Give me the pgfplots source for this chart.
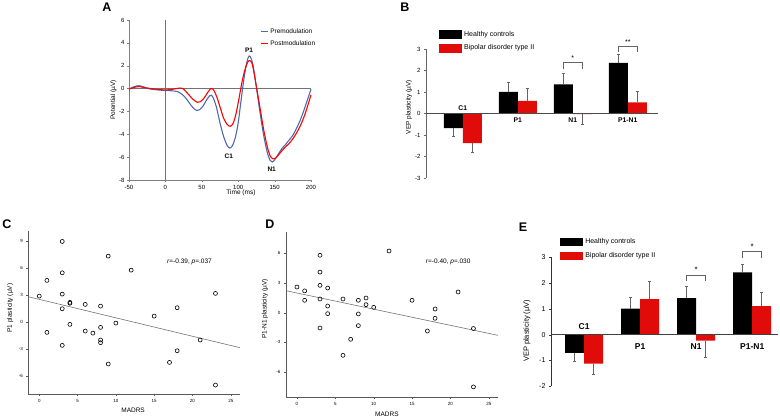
\documentclass[border=0pt]{standalone}
\usepackage{fontspec}
\setmainfont{Liberation Sans}
\usepackage{pgfplots}
\pgfplotsset{compat=1.18}
\definecolor{preblue}{RGB}{76,107,175}
\definecolor{barred}{RGB}{225,12,10}
\definecolor{errgray}{RGB}{100,100,100}
\begin{document}
\begin{tikzpicture}[x=1pt,y=1pt]
\useasboundingbox (0,0) rectangle (780,417);
\pgfplotsset{every axis/.append style={/pgf/number format/assume math mode=true, scale only axis, enlargelimits=false, tick align=outside, major tick length=2pt, clip=false}}
% ---------------- Panel A ----------------
\node[font=\bfseries\fontsize{12.5}{13}\selectfont] at (107,410) {A};
\begin{axis}[at={(129pt,237pt)}, anchor=south west, width=182pt, height=160pt,
 xmin=-50,xmax=200,ymin=-8,ymax=6,
 axis x line*=bottom, axis y line*=left, axis line style={black!50},
 xtick={-50,0,50,100,150,200}, ytick={-8,-6,-4,-2,0,2,4,6},
 tick style={black!50},
 tick label style={font=\fontsize{6}{7}\selectfont},
 yticklabel style={xshift=1pt},
 xlabel={Time (ms)}, ylabel={Potential (µV)},
 label style={font=\fontsize{6.5}{7}\selectfont},
 xlabel style={at={(axis description cs:0.615,-0.081)},anchor=center},
 ylabel style={at={(axis description cs:-0.085,0.5)},anchor=center},
 legend style={at={(axis description cs:0.72,0.96)},anchor=north west,draw=none,fill=none,font=\fontsize{6.5}{7}\selectfont,inner sep=0pt,row sep=1.5pt,
   /tikz/every even column/.append style={column sep=1pt}},
 legend cell align=left,
]
\addplot[black!55, line width=0.6pt, forget plot] coordinates {(-50,0) (200,0)};
\addplot[black!55, line width=0.6pt, forget plot] coordinates {(0,-8) (0,6)};
\addplot[preblue, line width=1.1pt, smooth,
 legend image code/.code={\draw[draw=preblue, line width=1.1pt] (0pt,0pt) -- (7pt,0pt);}] coordinates {
(-50,-0.05) (-45,0.12) (-40,0.22) (-36,0.25) (-30,0.15) (-25,0.02) (-20,-0.05) (-10,-0.12)
(0,-0.17) (10,-0.2) (18,-0.3) (25,-0.62) (30,-1.0) (35,-1.45) (40,-1.8) (43,-1.92)
(47,-1.85) (52,-1.5) (57,-0.95) (61,-0.62) (63,-0.58) (66,-0.85) (70,-1.6) (75,-3.0)
(80,-4.2) (85,-5.0) (88.5,-5.2) (92,-5.0) (96,-4.3) (100,-3.0) (104,-1.0) (108,0.9)
(112,2.35) (115,2.85) (118,2.6) (121,1.8) (125,0.1) (130,-2.1) (135,-4.1) (140,-5.6)
(144,-6.3) (147,-6.42) (150,-6.25) (155,-5.75) (160,-5.25) (165,-4.9) (170,-4.5)
(175,-4.1) (180,-3.5) (185,-2.8) (190,-1.95) (195,-1.0) (200,-0.05)};
\addlegendentry{Premodulation}
\addplot[red, line width=1.1pt, smooth,
 legend image code/.code={\draw[draw=red, line width=1.1pt] (0pt,0pt) -- (7pt,0pt);}] coordinates {
(-50,-0.05) (-45,0.05) (-40,0.15) (-36,0.17) (-30,0.1) (-20,0.0) (-10,-0.08) (0,-0.12)
(8,-0.08) (15,0.0) (20,0.05) (24,0.0) (28,-0.25) (33,-0.6) (38,-0.95) (44,-1.2)
(48,-1.15) (53,-0.85) (58,-0.35) (62,-0.02) (64,0.0) (67,-0.2) (71,-0.8) (75,-1.6)
(80,-2.6) (85,-3.15) (89,-3.3) (93,-3.05) (97,-2.2) (101,-0.9) (105,0.5) (109,1.6)
(113,2.3) (116,2.45) (119,2.2) (122,1.3) (126,-0.2) (130,-1.7) (135,-3.6) (140,-5.1)
(144,-5.9) (148,-6.15) (152,-6.05) (156,-5.75) (160,-5.45) (165,-5.1) (170,-4.8)
(175,-4.4) (180,-3.9) (185,-3.3) (190,-2.55) (195,-1.6) (200,-0.55)};
\addlegendentry{Postmodulation}
\node[font=\bfseries\fontsize{6.5}{7}\selectfont] at (axis cs:115,3.35) {P1};
\node[font=\bfseries\fontsize{6.5}{7}\selectfont] at (axis cs:87,-5.9) {C1};
\node[font=\bfseries\fontsize{6.5}{7}\selectfont] at (axis cs:146,-7.1) {N1};
\end{axis}
% ---------------- Panel B ----------------
\node[font=\bfseries\fontsize{12.5}{13}\selectfont] at (405,410) {B};
\begin{axis}[at={(426pt,239pt)}, anchor=south west, width=232pt, height=129pt,
 xmin=-0.67,xmax=3.55,ymin=-3,ymax=3,
 axis x line=none, axis y line*=left, axis line style={black!60},
 ytick={-3,-2,-1,0,1,2,3}, tick style={black!60},
 tick label style={font=\fontsize{6}{7}\selectfont},
 ylabel={VEP plasticity (µV)},
 label style={font=\fontsize{6.5}{7}\selectfont},
 ylabel style={at={(axis description cs:-0.073,0.55)},anchor=center},
 legend style={at={(axis description cs:0.056,1.155)},anchor=north west,draw=none,fill=none,font=\fontsize{7}{8}\selectfont,inner sep=0pt,row sep=3pt,
   /tikz/every even column/.append style={column sep=4pt}},
 legend cell align=left,
]
\addplot[ybar, bar width=19pt, bar shift=-9.5pt, fill=black, draw=none,
 legend image code/.code={\fill[black] (0pt,-4.5pt) rectangle (23pt,4.5pt);}]
 coordinates {(0,-0.68) (1,1.0) (2,1.36) (3,2.35)};
\addlegendentry{Healthy controls}
\addplot[ybar, bar width=19pt, bar shift=9.5pt, fill=barred, draw=none,
 legend image code/.code={\fill[barred] (0pt,-4.5pt) rectangle (23pt,4.5pt);}]
 coordinates {(0,-1.38) (1,0.59) (2,-0.03) (3,0.52)};
\addlegendentry{Bipolar disorder type II}
\addplot[draw=none, mark=none, forget plot, error bars/.cd, y dir=plus, y explicit,
 error bar style={draw=errgray, line width=0.7pt},
 error mark options={rotate=90, mark size=1.6pt, draw=errgray, line width=0.7pt}]
 coordinates {(0.83,1.0) +- (0,0.45) (1.83,1.36) +- (0,0.52) (2.83,2.35) +- (0,0.38)
              (1.17,0.59) +- (0,0.56) (3.17,0.52) +- (0,0.5)};
\addplot[draw=none, mark=none, forget plot, error bars/.cd, y dir=minus, y explicit,
 error bar style={draw=errgray, line width=0.7pt},
 error mark options={rotate=90, mark size=1.6pt, draw=errgray, line width=0.7pt}]
 coordinates {(-0.17,-0.68) +- (0,0.36) (0.17,-1.38) +- (0,0.44) (2.17,-0.03) +- (0,0.47)};
\addplot[black!70, line width=0.8pt, forget plot] coordinates {(-0.67,0) (3.55,0)};
\node[font=\bfseries\fontsize{6.8}{7}\selectfont] at (axis cs:0,0.25) {C1};
\node[font=\bfseries\fontsize{6.8}{7}\selectfont] at (axis cs:1,-0.33) {P1};
\node[font=\bfseries\fontsize{6.8}{7}\selectfont] at (axis cs:2,-0.33) {N1};
\node[font=\bfseries\fontsize{6.8}{7}\selectfont] at (axis cs:3,-0.33) {P1-N1};
\draw[errgray, line width=0.6pt] (axis cs:1.83,2.09) -- (axis cs:1.83,2.37) -- (axis cs:2.17,2.37) -- (axis cs:2.17,2.09);
\node[font=\fontsize{7}{7}\selectfont] at (axis cs:2,2.58) {*};
\draw[errgray, line width=0.6pt] (axis cs:2.83,2.88) -- (axis cs:2.83,3.12) -- (axis cs:3.17,3.12) -- (axis cs:3.17,2.88);
\node[font=\fontsize{7}{7}\selectfont] at (axis cs:3,3.32) {**};
\end{axis}
% ---------------- Panel C ----------------
\node[font=\bfseries\fontsize{12.5}{13}\selectfont] at (7,193) {C};
\begin{axis}[at={(28.3pt,22.7pt)}, anchor=south west, width=211.7pt, height=163.6pt,
 xmin=-1.43,xmax=26.2,ymin=-8.06,ymax=10.2,
 axis x line*=bottom, axis y line*=left, axis line style={black!65},
 xtick={0,5,10,15,20,25}, ytick={-6,-3,0,3,6,9}, tick style={black!65},
 tick label style={font=\fontsize{4.5}{5}\selectfont},
 xlabel={MADRS}, ylabel={P1 plasticity (µV)},
 label style={font=\fontsize{6.5}{7}\selectfont},
 xlabel style={at={(axis description cs:0.495,-0.096)},anchor=center},
 ylabel style={at={(axis description cs:-0.086,0.527)},anchor=center},
]
\addplot[black!55, line width=0.6pt] coordinates {(-1.43,2.83) (26.2,-2.86)};
\addplot[only marks, mark=o, mark size=2pt, black, mark options={line width=0.6pt}] coordinates {
(3,9.0) (9,7.36) (1,4.65) (3,5.5) (12,5.8) (3,3.12) (23,3.2) (0,2.9) (4,2.2) (4,2.1)
(6,1.97) (8,1.78) (3,1.49) (18,1.6) (15,0.67) (4,-0.26) (10,-0.11) (8,-0.59) (1,-1.15)
(6,-1.0) (7,-1.23) (8,-2.0) (8,-2.3) (3,-2.6) (21,-2.0) (18,-3.2) (17,-4.5) (9,-4.68) (23,-7.03)};
\node[font=\fontsize{6.5}{7}\selectfont] at (axis cs:19.6,6.7) {\textit{r}=-0.39, \textit{p}=.037};
\end{axis}
% ---------------- Panel D ----------------
\node[font=\bfseries\fontsize{12.5}{13}\selectfont] at (270,193) {D};
\begin{axis}[at={(286pt,19.7pt)}, anchor=south west, width=212pt, height=165pt,
 xmin=-1.43,xmax=26.2,ymin=-8.55,ymax=8.12,
 axis x line*=bottom, axis y line*=left, axis line style={black!65},
 xtick={0,5,10,15,20,25}, ytick={-6,-3,0,3,6}, tick style={black!65},
 tick label style={font=\fontsize{4.5}{5}\selectfont},
 xlabel={MADRS}, ylabel={P1-N1 plasticity (µV)},
 label style={font=\fontsize{6.5}{7}\selectfont},
 xlabel style={at={(axis description cs:0.476,-0.10)},anchor=center},
 ylabel style={at={(axis description cs:-0.099,0.535)},anchor=center},
]
\addplot[black!55, line width=0.6pt] coordinates {(-1.43,2.22) (26.2,-2.29)};
\addplot[only marks, mark=o, mark size=2pt, black, mark options={line width=0.6pt}] coordinates {
(0,2.59) (1,2.2) (1,1.25) (3,5.8) (3,4.1) (3,2.76) (3,1.38) (3,-1.55) (4,2.49) (4,0.67)
(4,-0.1) (6,1.38) (6,-4.31) (7,-2.69) (8,1.25) (8,-0.13) (8,-1.31) (9,1.48) (9,0.81)
(10,0.54) (12,6.23) (15,1.25) (17,-1.85) (18,0.37) (18,-0.57) (21,2.09) (23,-1.6) (23,-7.5)};
\node[font=\fontsize{6.5}{7}\selectfont] at (axis cs:19.7,5.15) {\textit{r}=-0.40, \textit{p}=.030};
\end{axis}
% ---------------- Panel E ----------------
\node[font=\bfseries\fontsize{12.5}{13}\selectfont] at (523,190) {E};
\begin{axis}[at={(551pt,30.7pt)}, anchor=south west, width=227pt, height=129pt,
 xmin=-0.59,xmax=3.46,ymin=-2,ymax=3,
 axis x line=none, axis y line*=left, axis line style={black!80},
 ytick={-2,-1,0,1,2,3}, tick style={black!80},
 tick label style={font=\fontsize{7}{8}\selectfont},
 ylabel={VEP plasticity (µV)},
 label style={font=\fontsize{7.5}{8}\selectfont},
 ylabel style={at={(axis description cs:-0.106,0.43)},anchor=center},
 legend style={at={(axis description cs:0.04,1.16)},anchor=north west,draw=none,fill=none,font=\fontsize{7}{8}\selectfont,inner sep=0pt,row sep=3pt,
   /tikz/every even column/.append style={column sep=4pt}},
 legend cell align=left,
]
\addplot[ybar, bar width=19pt, bar shift=-9.5pt, fill=black, draw=none,
 legend image code/.code={\fill[black] (0pt,-4pt) rectangle (23pt,4pt);}]
 coordinates {(0,-0.70) (1,1.01) (2,1.42) (3,2.42)};
\addlegendentry{Healthy controls}
\addplot[ybar, bar width=19pt, bar shift=9.5pt, fill=barred, draw=none,
 legend image code/.code={\fill[barred] (0pt,-4pt) rectangle (23pt,4pt);}]
 coordinates {(0,-1.12) (1,1.38) (2,-0.23) (3,1.11)};
\addlegendentry{Bipolar disorder type II}
\addplot[draw=none, mark=none, forget plot, error bars/.cd, y dir=plus, y explicit,
 error bar style={draw=errgray, line width=0.7pt},
 error mark options={rotate=90, mark size=1.6pt, draw=errgray, line width=0.7pt}]
 coordinates {(0.83,1.01) +- (0,0.45) (1.83,1.42) +- (0,0.47) (2.83,2.42) +- (0,0.32)
              (1.17,1.38) +- (0,0.69) (3.17,1.11) +- (0,0.52)};
\addplot[draw=none, mark=none, forget plot, error bars/.cd, y dir=minus, y explicit,
 error bar style={draw=errgray, line width=0.7pt},
 error mark options={rotate=90, mark size=1.6pt, draw=errgray, line width=0.7pt}]
 coordinates {(-0.17,-0.70) +- (0,0.33) (0.17,-1.12) +- (0,0.40) (2.17,-0.23) +- (0,0.66)};
\addplot[black!75, line width=0.9pt, forget plot] coordinates {(-0.59,0) (3.46,0)};
\node[font=\bfseries\fontsize{8.5}{9}\selectfont] at (axis cs:0,0.31) {C1};
\node[font=\bfseries\fontsize{8.5}{9}\selectfont] at (axis cs:1,-0.47) {P1};
\node[font=\bfseries\fontsize{8.5}{9}\selectfont] at (axis cs:2,-0.47) {N1};
\node[font=\bfseries\fontsize{8.5}{9}\selectfont] at (axis cs:3,-0.47) {P1-N1};
\draw[errgray, line width=0.6pt] (axis cs:1.83,2.09) -- (axis cs:1.83,2.3) -- (axis cs:2.17,2.3) -- (axis cs:2.17,2.09);
\node[font=\fontsize{8}{8}\selectfont] at (axis cs:2,2.5) {*};
\draw[errgray, line width=0.6pt] (axis cs:2.83,2.98) -- (axis cs:2.83,3.23) -- (axis cs:3.17,3.23) -- (axis cs:3.17,2.98);
\node[font=\fontsize{8}{8}\selectfont] at (axis cs:3,3.4) {*};
\end{axis}
\end{tikzpicture}
\end{document}
